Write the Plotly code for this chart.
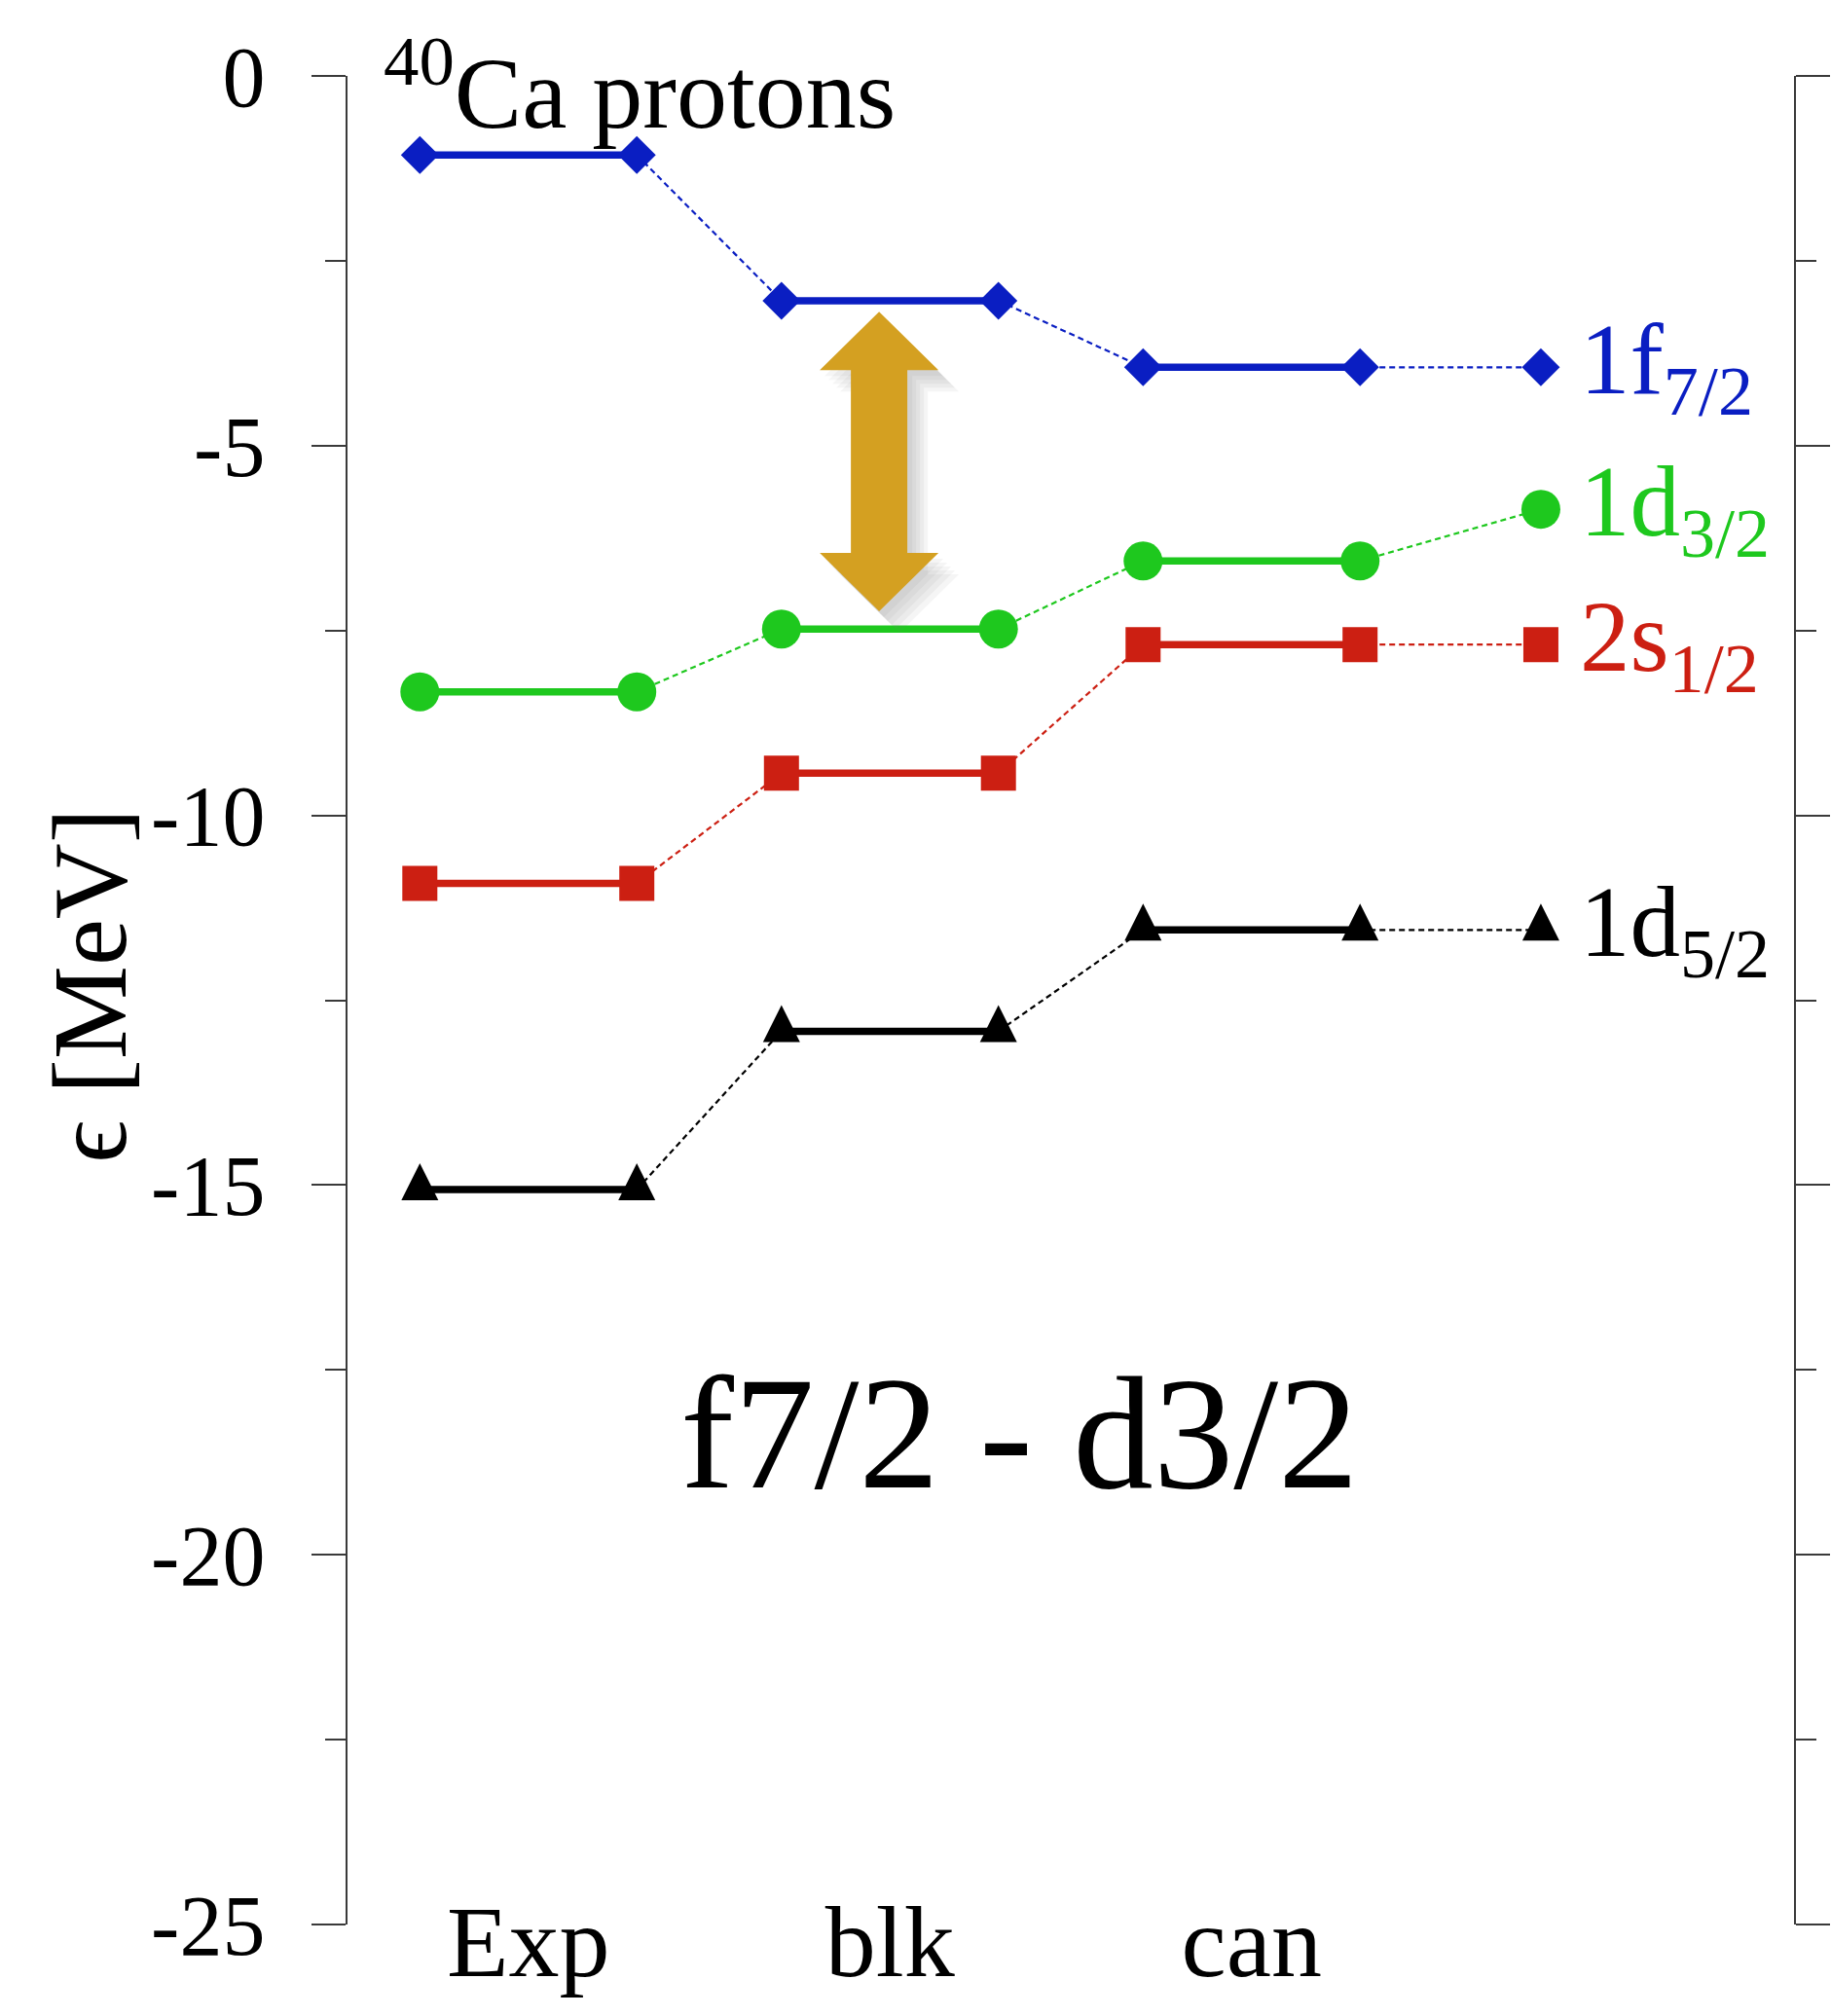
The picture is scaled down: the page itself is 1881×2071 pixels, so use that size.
import plotly.graph_objects as go

# ---- data -------------------------------------------------------------
methods = ["Exp", "blk", "can"]
method_x = [1, 2, 3]
label_x = 3.8
half_width = 0.3

state_names = ["1f<sub>7/2</sub>", "1d<sub>3/2</sub>", "2s<sub>1/2</sub>", "1d<sub>5/2</sub>"]
# proton single-particle energies [MeV]: Exp, blk, can, labelled end point
e_1f72 = [-1.07, -3.04, -3.94, -3.94]
e_1d32 = [-8.33, -7.48, -6.56, -5.86]
e_2s12 = [-10.92, -9.43, -7.69, -7.69]
e_1d52 = [-15.06, -12.92, -11.55, -11.55]

y_tick_vals = [0, -5, -10, -15, -20, -25]
y_tick_text = ["0", "-5", "-10", "-15", "-20", "-25"]
y_minor_vals = [-2.5, -7.5, -12.5, -17.5, -22.5]

# ---- style ------------------------------------------------------------
series = [e_1f72, e_1d32, e_2s12, e_1d52]
colors = ["#0a1ec2", "#1ec81e", "#cc1f12", "#000000"]
symbols = ["diamond", "circle", "square", None]   # triangles drawn as shapes
sizes = [30, 40, 36, 0]
SERIF = "Liberation Serif, Times New Roman, DejaVu Serif, serif"
AXIS_COLOR = "#3a3a3a"

fig = go.Figure()
shapes = []


def level_xy(vals):
    xs, ys = [], []
    for c, v in zip(method_x, vals[:3]):
        xs += [c - half_width, c + half_width, None]
        ys += [v, v, None]
    return xs, ys


def link_xy(vals):
    xs, ys = [], []
    for i in range(2):
        xs += [method_x[i] + half_width, method_x[i + 1] - half_width, None]
        ys += [vals[i], vals[i + 1], None]
    xs += [method_x[2] + half_width, label_x]
    ys += [vals[2], vals[3]]
    return xs, ys


def point_xy(vals):
    xs, ys = [], []
    for c, v in zip(method_x, vals[:3]):
        xs += [c - half_width, c + half_width]
        ys += [v, v]
    xs.append(label_x)
    ys.append(vals[3])
    return xs, ys


for vals, col, sym, sz, name in zip(series, colors, symbols, sizes, state_names):
    lx, ly = link_xy(vals)
    fig.add_trace(go.Scatter(x=lx, y=ly, mode="lines", name=name, showlegend=False,
                             line=dict(color=col, width=2.2, dash="6px,4px")))
    sx, sy = level_xy(vals)
    fig.add_trace(go.Scatter(x=sx, y=sy, mode="lines", showlegend=False,
                             line=dict(color=col, width=7.5)))
    px, py = point_xy(vals)
    if sym is not None:
        fig.add_trace(go.Scatter(x=px, y=py, mode="markers", showlegend=False,
                                 marker=dict(symbol=sym, size=sz, color=col,
                                             line=dict(width=0))))
    else:
        # tall filled triangles centred on each level end point
        for x0, y0 in zip(px, py):
            shapes.append(dict(type="path", xref="x", yref="y",
                               xsizemode="pixel", ysizemode="pixel",
                               xanchor=x0, yanchor=y0,
                               path="M-19,-11 L19,-11 L0,27 Z",
                               fillcolor=col, line=dict(width=0), layer="above"))

    # state label next to the end point
    fig.add_annotation(x=label_x, y=vals[3], xref="x", yref="y",
                       text=name, showarrow=False, xanchor="left", yanchor="middle",
                       xshift=38, yshift=0,
                       font=dict(family=SERIF, size=103, color=col))

# ---- double-headed arrow marking the f7/2 - d3/2 gap (blk column) -------
arrow_x = 1.97
y_top = e_1f72[1] - 0.15
y_bot = e_1d32[1] + 0.24
head = 0.79          # head length in MeV
px_per_mev = 1899 / 25.0


def arrow_path(dx, dy_px):
    dy = -dy_px / px_per_mev
    t, b = y_top + dy, y_bot + dy
    pts = [(0, t), (61, t - head), (29, t - head), (29, b + head), (61, b + head),
           (0, b), (-61, b + head), (-29, b + head), (-29, t - head), (-61, t - head)]
    return "M" + " L".join(f"{x + dx},{y:.3f}" for x, y in pts) + " Z"


for dx, dy_px in [(5, 6), (9, 10), (13, 14), (17, 18), (21, 22)]:
    shapes.append(dict(type="path", xref="x", yref="y", xsizemode="pixel",
                       xanchor=arrow_x, path=arrow_path(dx, dy_px),
                       fillcolor="#7a7a7a", opacity=0.08, line=dict(width=0),
                       layer="above"))
shapes.append(dict(type="path", xref="x", yref="y", xsizemode="pixel",
                   xanchor=arrow_x, path=arrow_path(0, 0),
                   fillcolor="#d4a021", line=dict(width=0), layer="above"))

# ---- text ---------------------------------------------------------------
fig.add_annotation(x=0.594, y=-0.12, xref="x", yref="y", xanchor="left", yanchor="middle",
                   text="<sup>40</sup>Ca protons", showarrow=False,
                   font=dict(family=SERIF, size=104, color="black"))
fig.add_annotation(x=2.359, y=-18.36, xref="x", yref="y", xanchor="center", yanchor="middle",
                   text="f7/2 - d3/2", showarrow=False,
                   font=dict(family=SERIF, size=165, color="black"))
fig.add_annotation(x=-0.178, y=-12.3, xref="paper", yref="y", xanchor="center",
                   yanchor="middle", textangle=-90,
                   text="\u03f5 [MeV]", showarrow=False,
                   font=dict(family=SERIF, size=108, color="black"))

fig.update_layout(
    width=1881, height=2071,
    margin=dict(l=357, r=38, t=78, b=94, pad=0, autoexpand=False),
    paper_bgcolor="white", plot_bgcolor="white",
    shapes=shapes,
    xaxis=dict(range=[0.5, 4.5], showline=False, showgrid=False, zeroline=False,
               automargin=False,
               tickmode="array", tickvals=method_x, ticktext=methods, ticks="",
               tickfont=dict(family=SERIF, size=104, color="black"),
               ticklabelstandoff=-52),
    yaxis=dict(range=[-25, 0], showgrid=False, zeroline=False, automargin=False,
               showline=True, linecolor=AXIS_COLOR, linewidth=2, mirror="ticks",
               tickmode="array", tickvals=y_tick_vals, ticktext=y_tick_text,
               ticks="outside", ticklen=35, tickwidth=2, tickcolor=AXIS_COLOR,
               ticklabelstandoff=30,
               tickfont=dict(family=SERIF, size=88, color="black"),
               minor=dict(tickmode="array", tickvals=y_minor_vals, ticks="outside",
                          ticklen=21, tickwidth=2, tickcolor=AXIS_COLOR, showgrid=False)),
)

fig.write_html("out.html")
